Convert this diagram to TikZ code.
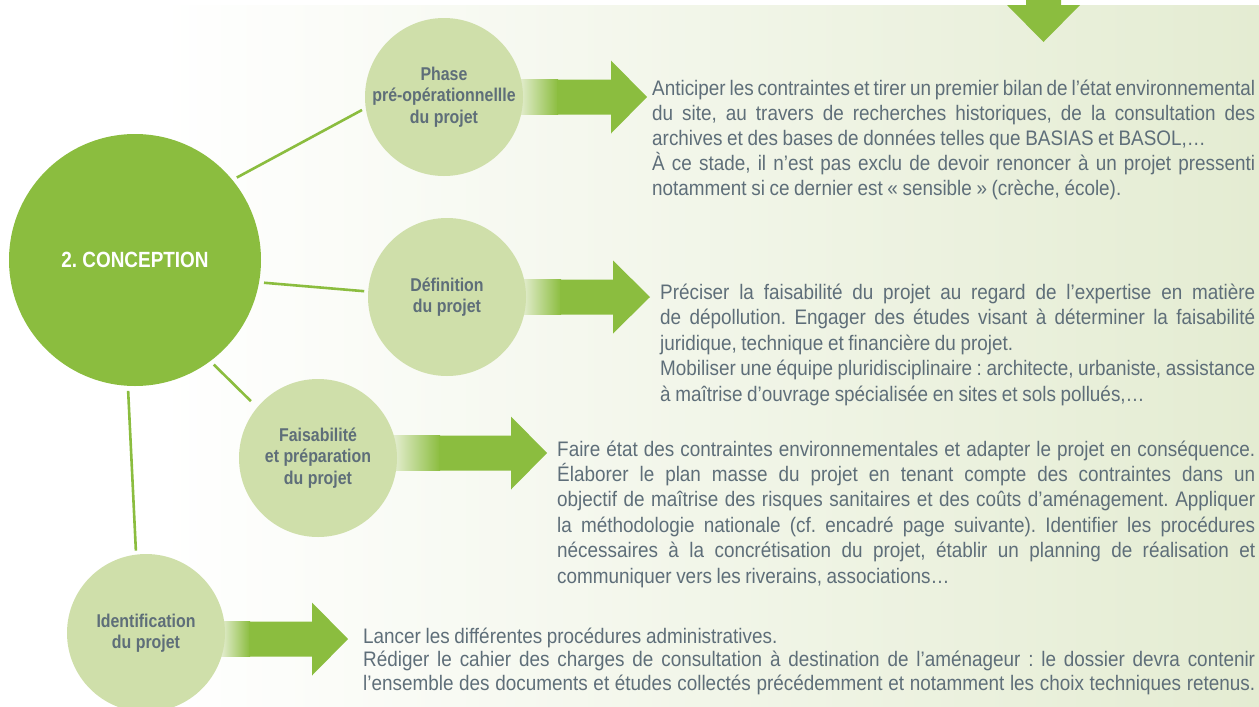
\documentclass[tikz,border=0pt]{standalone}
\usepackage{fontspec}
\setmainfont{Liberation Sans}[FakeStretch=0.86]
\newfontfamily\blurbfont{Liberation Sans}[FakeStretch=0.90]
\newcommand\blurbtype[1]{\blurbfont\fontsize{21}{#1}\selectfont
  \spaceskip=0.22em plus 0.5em minus 0.09em
  \hyphenpenalty=10000 \exhyphenpenalty=10000 }
\frenchspacing

\definecolor{leaf}{HTML}{8BBD3F}
\definecolor{pale}{HTML}{CFDFAA}
\definecolor{slate}{HTML}{5E6E79}
\definecolor{wash}{HTML}{E4ECD2}

\tikzset{
  bigdisc/.style={circle, fill=leaf, minimum size=252pt, inner sep=0pt, outer sep=5pt,
    text=white, font=\fontsize{22}{25}\selectfont\bfseries},
  stagedisc/.style={circle, fill=pale, minimum size=158pt, inner sep=0pt, outer sep=4pt,
    text=slate, align=center, font=\fontsize{18.5}{21.5}\selectfont\bfseries},
  link/.style={draw=leaf, line width=2.6pt},
  blurb/.style={anchor=base west, inner sep=0pt, text=slate, align=justify,
    font=\blurbtype{#1}},
  blurb/.default=25,
}

\begin{document}
\begin{tikzpicture}[x=1pt, y=-1pt]
\useasboundingbox (0,0) rectangle (1259,707);
\clip (0,0) rectangle (1259,707);

% backdrop
\shade[left color=white, right color=wash] (160,5) rectangle (1259,707);
\fill[leaf] (1026,0) -- (1061,0) -- (1061,5) -- (1080,5) -- (1043.5,42) -- (1007,5) -- (1026,5) -- cycle;

% arrows
\shade[left color=pale!50!white, right color=leaf] (518,79.5) rectangle (558,114.5);
\fill[leaf] (557,79.5) -- (611,79.5) -- (611,60.5) -- (647,97) -- (611,133.5) -- (611,114.5) -- (557,114.5) -- cycle;
\shade[left color=pale!50!white, right color=leaf] (521,279.5) rectangle (561,314.5);
\fill[leaf] (560,279.5) -- (613,279.5) -- (613,260.5) -- (650,297) -- (613,333.5) -- (613,314.5) -- (560,314.5) -- cycle;
\shade[left color=pale!50!white, right color=leaf] (392,435.5) rectangle (440,470.5);
\fill[leaf] (439,435.5) -- (511,435.5) -- (511,416.5) -- (547,453) -- (511,489.5) -- (511,470.5) -- (439,470.5) -- cycle;
\shade[left color=pale!50!white, right color=leaf] (220,621.5) rectangle (250,656.5);
\fill[leaf] (249,621.5) -- (312,621.5) -- (312,602.5) -- (348,639) -- (312,675.5) -- (312,656.5) -- (249,656.5) -- cycle;

% discs
\node[bigdisc] (concept) at (135,260) {2. CONCEPTION};
\node[stagedisc] (phase) at (444,97) {Phase\\pré-opérationnellle\\du projet};
\node[stagedisc] (defin) at (447,297) {Définition\\du projet};
\node[stagedisc] (faisab) at (318,458) {Faisabilité\\et préparation\\du projet};
\node[stagedisc] (ident) at (146,633) {Identification\\du projet};

\draw[link] (concept.39) -- (phase.189);
\draw[link] (concept.-10) -- (defin.176);
\draw[link, shorten >=5pt] (concept.-53) -- (faisab.140);
\draw[link] (concept.-93) -- (ident.97);

% texts
\node[blurb, text width=603pt] (txtphase) at (652,95) {Anticiper les contraintes et tirer un premier bilan de l’état environnemental\linebreak du site, au travers de recherches historiques, de la consultation des\linebreak archives et des bases de données telles que BASIAS et BASOL,…\par À ce stade, il n’est pas exclu de devoir renoncer à un projet pressenti\linebreak notamment si ce dernier est «~sensible~» (crèche, école).};
\node[blurb=25.6, text width=595pt] (txtdefin) at (660,299) {Préciser la faisabilité du projet au regard de l’expertise en matière\linebreak de dépollution. Engager des études visant à déterminer la faisabilité\linebreak juridique, technique et financière du projet.\par Mobiliser une équipe pluridisciplinaire : architecte, urbaniste, assistance\linebreak à maîtrise d’ouvrage spécialisée en sites et sols pollués,…};
\node[blurb=25.4, text width=698pt] (txtfaisab) at (557,456) {Faire état des contraintes environnementales et adapter le projet en conséquence.\linebreak Élaborer le plan masse du projet en tenant compte des contraintes dans un\linebreak objectif de maîtrise des risques sanitaires et des coûts d’aménagement. Appliquer\linebreak la méthodologie nationale (cf. encadré page suivante). Identifier les procédures\linebreak nécessaires à la concrétisation du projet, établir un planning de réalisation et\linebreak communiquer vers les riverains, associations…};
\node[blurb=23.7, text width=892pt] (txtident) at (363,643) {Lancer les différentes procédures administratives.\par Rédiger le cahier des charges de consultation à destination de l’aménageur : le dossier devra contenir\linebreak l’ensemble des documents et études collectés précédemment et notamment les choix techniques retenus.\unskip\parfillskip=0pt\par};
\end{tikzpicture}
\end{document}
